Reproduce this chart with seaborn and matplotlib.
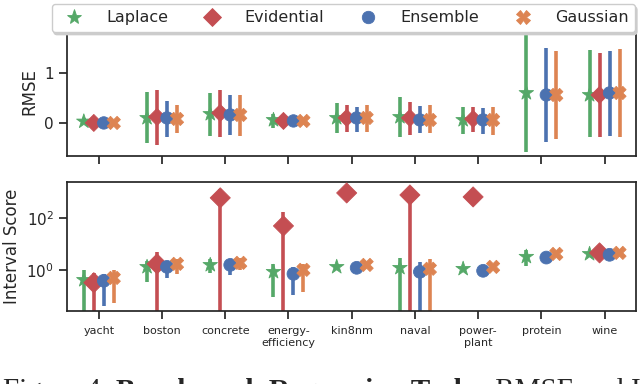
import numpy as np
import pandas as pd
import matplotlib
matplotlib.use("Agg")
import matplotlib.pyplot as plt
import seaborn as sns

datasets = ["yacht", "boston", "concrete", "energy-\nefficiency", "kin8nm",
            "naval", "power-\nplant", "protein", "wine"]
methods = ["Laplace", "Evidential", "Ensemble", "Gaussian"]
nan = np.nan

# RMSE: centre, lower, upper
rmse_laplace = [0.03, 0.10, 0.18, 0.06, 0.10, 0.12, 0.06, 0.60, 0.56]
rmse_laplace_lo = [-0.03, -0.40, -0.26, -0.10, -0.20, -0.28, -0.22, -0.58, -0.28]
rmse_laplace_hi = [0.09, 0.62, 0.60, 0.18, 0.40, 0.52, 0.32, 1.85, 1.46]
rmse_evidential = [0.0, 0.12, 0.20, 0.04, 0.10, 0.10, 0.08, nan, 0.56]
rmse_evidential_lo = [-0.05, -0.44, -0.28, -0.06, -0.18, -0.24, -0.18, nan, -0.28]
rmse_evidential_hi = [0.05, 0.66, 0.66, 0.14, 0.36, 0.42, 0.32, nan, 1.40]
rmse_ensemble = [0.0, 0.10, 0.16, 0.04, 0.10, 0.06, 0.06, 0.56, 0.60]
rmse_ensemble_lo = [-0.05, -0.28, -0.24, -0.05, -0.18, -0.20, -0.22, -0.38, -0.26]
rmse_ensemble_hi = [0.05, 0.44, 0.56, 0.12, 0.32, 0.34, 0.30, 1.50, 1.44]
rmse_gaussian = [0.0, 0.08, 0.16, 0.04, 0.10, 0.06, 0.06, 0.56, 0.60]
rmse_gaussian_lo = [-0.03, -0.20, -0.26, -0.04, -0.18, -0.20, -0.24, -0.32, -0.28]
rmse_gaussian_hi = [0.03, 0.36, 0.56, 0.10, 0.36, 0.36, 0.32, 1.44, 1.48]

# Interval score: centre, lower, upper (lower bounds below the axis are clipped)
is_laplace = [0.41, 1.3, 1.55, 0.84, 1.3, 1.2, 1.1, 3.2, 4.1]
is_laplace_lo = [0.001, 0.35, 0.76, 0.09, 1.0, 0.001, 0.95, 1.4, 3.6]
is_laplace_hi = [1.0, 2.2, 2.6, 1.7, 1.7, 2.9, 1.3, 5.9, 4.6]
is_evidential = [0.32, 1.7, 590, 49, 910, 760, 640, nan, 4.5]
is_evidential_lo = [0.001, 0.001, 0.001, 0.001, 800, 0.001, 560, nan, 3.9]
is_evidential_hi = [0.76, 4.9, 1270, 170, 1000, 800, 720, nan, 5.2]
is_ensemble = [0.38, 1.3, 1.55, 0.7, 1.2, 0.84, 0.92, 2.97, 3.8]
is_ensemble_lo = [0.042, 0.49, 0.64, 0.11, 1.0, 0.001, 0.85, 2.6, 3.4]
is_ensemble_hi = [0.7, 2.0, 2.4, 1.3, 1.4, 2.0, 1.0, 3.4, 4.2]
is_gaussian = [0.49, 1.7, 1.86, 1.0, 1.55, 1.1, 1.3, 4.1, 4.5]
is_gaussian_lo = [0.054, 0.7, 1.0, 0.14, 1.4, 0.001, 1.2, 3.7, 4.1]
is_gaussian_hi = [1.0, 2.6, 2.9, 1.7, 1.7, 2.6, 1.45, 4.5, 4.9]

sns.set_theme(style="ticks", context="notebook")
deep = sns.color_palette("deep")
palette = {"Laplace": deep[2], "Evidential": deep[3],
           "Ensemble": deep[0], "Gaussian": deep[1]}
markers = {"Laplace": "*", "Evidential": "D", "Ensemble": "o", "Gaussian": "X"}
sizes_top = {"Laplace": 120, "Evidential": 75, "Ensemble": 80, "Gaussian": 90}
sizes_bottom = {"Laplace": 120, "Evidential": 105, "Ensemble": 85, "Gaussian": 90}
offsets = {"Laplace": -0.237, "Evidential": -0.079, "Ensemble": 0.079, "Gaussian": 0.237}


def frame(vals):
    rows = []
    for m, (c, lo, hi) in vals.items():
        for i, d in enumerate(datasets):
            rows.append(dict(dataset=d, method=m, x=i + offsets[m],
                             value=c[i], lo=lo[i], hi=hi[i]))
    return pd.DataFrame(rows)


rmse = frame({"Laplace": (rmse_laplace, rmse_laplace_lo, rmse_laplace_hi),
              "Evidential": (rmse_evidential, rmse_evidential_lo, rmse_evidential_hi),
              "Ensemble": (rmse_ensemble, rmse_ensemble_lo, rmse_ensemble_hi),
              "Gaussian": (rmse_gaussian, rmse_gaussian_lo, rmse_gaussian_hi)})
iscore = frame({"Laplace": (is_laplace, is_laplace_lo, is_laplace_hi),
                "Evidential": (is_evidential, is_evidential_lo, is_evidential_hi),
                "Ensemble": (is_ensemble, is_ensemble_lo, is_ensemble_hi),
                "Gaussian": (is_gaussian, is_gaussian_lo, is_gaussian_hi)})

fig = plt.figure(figsize=(6.4, 3.84), dpi=100)
ax1 = fig.add_axes([0.105, 0.594, 0.889, 0.333])
ax2 = fig.add_axes([0.105, 0.190, 0.889, 0.336])


def draw(ax, df, sizes):
    for m in methods:
        sub = df[df.method == m]
        ax.vlines(sub.x, sub.lo, sub.hi, color=palette[m], lw=2.6, zorder=2)
    sns.scatterplot(data=df, x="x", y="value", hue="method", style="method",
                    size="method", hue_order=methods, style_order=methods,
                    size_order=methods, palette=palette, markers=markers,
                    sizes=sizes, linewidth=0.6, edgecolor="face", zorder=3, ax=ax)
    ax.set_xlim(-0.5, 8.5)
    ax.set_xticks(range(len(datasets)))
    ax.tick_params(bottom=True, left=True, length=6, width=1.25, color=".15")
    ax.tick_params(axis="x", pad=5)
    for s in ax.spines.values():
        s.set_color(".15")
        s.set_linewidth(1.25)


draw(ax1, rmse, sizes_top)
handles, labels = ax1.get_legend_handles_labels()
ax1.get_legend().remove()
ax1.set_ylim(-0.66, 1.9)
ax1.set_yticks([0, 1])
ax1.set_xticklabels([])
ax1.set_xlabel("Dataset", fontsize=12, labelpad=8)
ax1.set_ylabel("RMSE", fontsize=12)
ax1.tick_params(axis="y", labelsize=11)

draw(ax2, iscore, sizes_bottom)
ax2.get_legend().remove()
ax2.set_yscale("log")
ax2.set_ylim(0.026, 2400)
ax2.set_yticks([1, 100])
ax2.minorticks_off()
ax2.set_xticklabels(datasets, fontsize=8)
ax2.set_xlabel("")
ax2.set_ylabel("Interval Score", fontsize=12)
ax2.tick_params(axis="y", labelsize=11)
ax2.set_zorder(3)

fig.legend(handles, labels, loc="lower left", ncol=4, mode="expand",
           bbox_to_anchor=(0.081, 0.917, 0.911, 0.075), fontsize=11.5,
           handletextpad=1.0, borderaxespad=0, framealpha=1,
           shadow={"color": "0.8", "alpha": 1.0, "ox": 1.5, "oy": -2})

caption_y = 0.016
t1 = fig.text(0.004, caption_y, "Figure 4: ", family="Liberation Serif",
              fontsize=21, va="top", ha="left")
t2 = fig.text(0, 0, "Benchmark Regression Tasks.", family="Liberation Serif",
              fontsize=21, weight="bold", va="top", ha="left")
t3 = fig.text(0, 0, " RMSE and Interval Score", family="Liberation Serif",
              fontsize=21, va="top", ha="left")
fig.canvas.draw()
r = fig.canvas.get_renderer()
inv = fig.transFigure.inverted()
b1 = inv.transform(t1.get_window_extent(r))
t2.set_position((b1[1, 0], caption_y))
fig.canvas.draw()
b2 = inv.transform(t2.get_window_extent(r))
t3.set_position((b2[1, 0], caption_y))

fig.savefig("out.png", dpi=100)
